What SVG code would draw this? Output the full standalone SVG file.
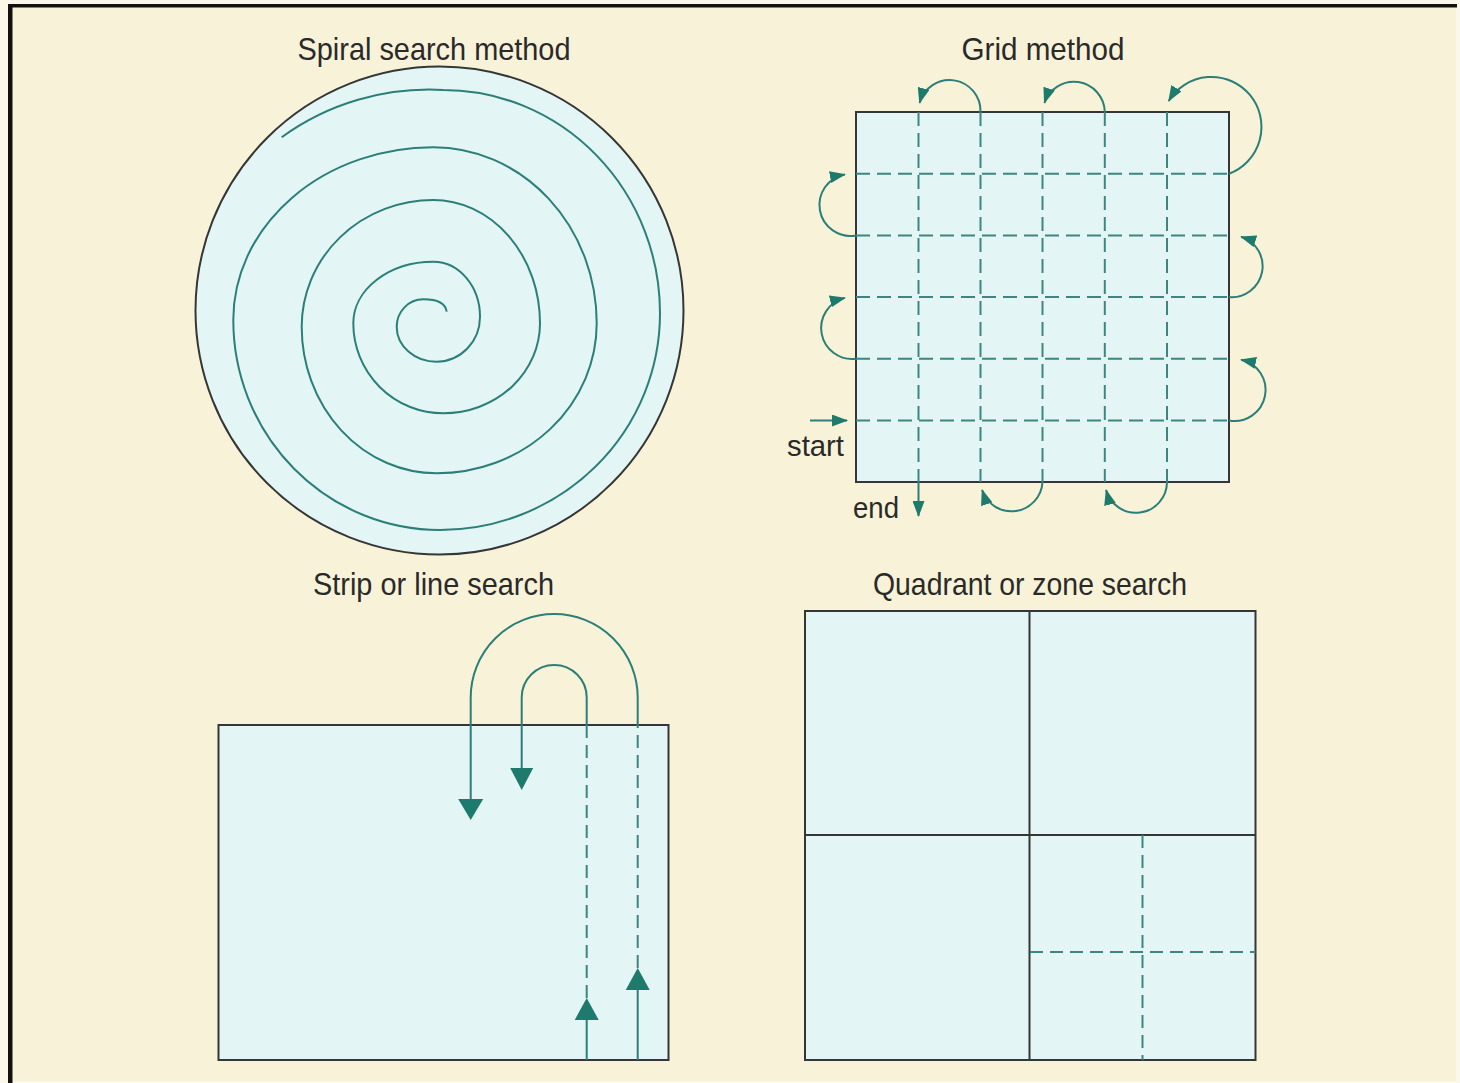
<svg xmlns="http://www.w3.org/2000/svg" width="1460" height="1083" viewBox="0 0 1460 1083">
  <defs>
    <style>
      .title { font-family: "Liberation Sans", Arial, sans-serif; font-size: 32px; fill: #2a2a2a; text-anchor: middle; }
      .lbl { font-family: "Liberation Sans", Arial, sans-serif; font-size: 30px; fill: #2a2a2a; }
      .box { fill: #e3f6f5; stroke: #363636; stroke-width: 2; }
      .edge { fill: none; stroke: #363636; stroke-width: 2; }
      .path { fill: none; stroke: #2b7f78; stroke-width: 2; }
      .dash { fill: none; stroke: #3e8581; stroke-width: 2; stroke-dasharray: 14 7; }
      .dash2 { fill: none; stroke: #3e8581; stroke-width: 2; stroke-dasharray: 13 7; }
      .head { fill: #1e7a6c; }
    </style>
    <marker id="ah" viewBox="0 0 16 12" refX="15" refY="6" markerWidth="16" markerHeight="12" markerUnits="userSpaceOnUse" orient="auto">
      <path d="M0,0 L16,6 L0,12 z" class="head"/>
    </marker>
  </defs>

  <!-- background and frame -->
  <rect x="0" y="0" width="1460" height="1083" fill="#fbf8ea"/>
  <rect x="12" y="7" width="1444" height="1074" fill="#f8f3d8"/>
  <rect x="8" y="4" width="1449" height="3.5" fill="#141010"/>
  <rect x="8" y="4" width="4.5" height="1079" fill="#141010"/>

  <!-- Spiral search method -->
  <g id="spiral">
    <text class="title" x="434" y="60" textLength="273" lengthAdjust="spacingAndGlyphs">Spiral search method</text>
    <circle cx="439.5" cy="310.5" r="244" class="box"/>
    <path class="path" d="M446.7,311.7 Q445,299.3 423.3,299.3
      A26.6 27.4 0 0 0 396.7,326.7
      A40 35 0 0 0 436.7,361.7
      A43.3 45 0 0 0 480,316.7
      A46.7 55 0 0 0 433.3,261.7
      A80 61.6 0 0 0 353.3,323.3
      A90 90 0 0 0 443.3,413.3
      A96.7 90 0 0 0 540,323.3
      A106.7 123.3 0 0 0 433.3,200
      A131.6 126.7 0 0 0 301.7,326.7
      A135 146.6 0 0 0 436.7,473.3
      A160 150 0 0 0 596.7,323.3
      A163.4 176 0 0 0 433.3,147.3
      A200 172.7 0 0 0 233.3,320
      A206.7 210 0 0 0 440,530
      A220 216.7 0 0 0 660,313.3
      A216.7 223.3 0 0 0 443.3,90
      A243 232 0 0 0 281.7,137.3"/>
  </g>

  <!-- Grid method -->
  <g id="grid">
    <text class="title" x="1043" y="60" textLength="163" lengthAdjust="spacingAndGlyphs">Grid method</text>
    <rect x="856" y="112" width="373" height="370" class="box"/>
    <g id="grid-lines">
      <path class="dash" d="M918.5,112 V482 M980.5,112 V482 M1042.5,112 V482 M1104.8,112 V482 M1167,112 V482"/>
      <path class="dash" d="M856,173.7 H1229 M856,235.4 H1229 M856,297.1 H1229 M856,358.8 H1229 M856,420.5 H1229"/>
    </g>
    <text class="lbl" x="787" y="456" textLength="57" lengthAdjust="spacingAndGlyphs">start</text>
    <text class="lbl" x="853" y="518" textLength="46" lengthAdjust="spacingAndGlyphs">end</text>
  </g>

  <!-- Strip or line search -->
  <g id="strip">
    <text class="title" x="433.5" y="595" textLength="241" lengthAdjust="spacingAndGlyphs">Strip or line search</text>
    <rect x="218.5" y="725" width="450" height="335" class="box"/>
  </g>

  <!-- Quadrant or zone search -->
  <g id="quadrant">
    <text class="title" x="1030" y="595" textLength="314" lengthAdjust="spacingAndGlyphs">Quadrant or zone search</text>
    <rect x="805" y="611" width="450.5" height="449" class="box"/>
    <path class="edge" d="M1029.5,611 V1060 M805,835 H1255.5"/>
    <path class="dash2" d="M1142.5,835 V1060 M1030,952 H1255.5"/>
  </g>

  <!-- connectors -->
  <g id="connectors">
    <!-- grid: start / end -->
    <path class="path" d="M810,420.5 H847" marker-end="url(#ah)"/>
    <path class="path" d="M918.5,482 V516" marker-end="url(#ah)"/>
    <!-- grid: right side turns -->
    <path class="path" d="M1229,420.5 A31 31 0 0 0 1241.1,359.7" marker-end="url(#ah)"/>
    <path class="path" d="M1229,297.1 A31 31 0 0 0 1241.1,236.7" marker-end="url(#ah)"/>
    <!-- grid: left side turns -->
    <path class="path" d="M856,358.8 A31 31 0 0 1 844.9,297.9" marker-end="url(#ah)"/>
    <path class="path" d="M856,235.4 A31 31 0 0 1 844.9,174.4" marker-end="url(#ah)"/>
    <!-- grid: big corner turn -->
    <path class="path" d="M1229.1,173.7 A50 50 0 1 0 1168.7,101" marker-end="url(#ah)"/>
    <!-- grid: top turns -->
    <path class="path" d="M1104.8,112 A31 31 0 0 0 1044.4,102.9" marker-end="url(#ah)"/>
    <path class="path" d="M980.5,112 A31 31 0 0 0 919.6,102.9" marker-end="url(#ah)"/>
    <!-- grid: bottom turns -->
    <path class="path" d="M1167,482 A31 31 0 0 1 1106.1,490" marker-end="url(#ah)"/>
    <path class="path" d="M1042.5,482 A31 31 0 0 1 982.1,490" marker-end="url(#ah)"/>

    <!-- strip: outer loop -->
    <path class="path" d="M637.7,1060 V990"/>
    <polygon class="head" points="625.7,990 649.7,990 637.7,968"/>
    <path class="dash2" d="M637.7,968 V725"/>
    <path class="path" d="M637.7,726 V697.5 A83.5 83.5 0 0 0 470.7,697.5 V800"/>
    <polygon class="head" points="458.2,799 483.2,799 470.7,820"/>
    <!-- strip: inner loop -->
    <path class="path" d="M586.7,1060 V1020"/>
    <polygon class="head" points="574.7,1020 598.7,1020 586.7,998"/>
    <path class="dash2" d="M586.7,998 V725"/>
    <path class="path" d="M586.7,726 V697.5 A32.5 32.5 0 0 0 521.7,697.5 V769"/>
    <polygon class="head" points="510.2,768 533.2,768 521.7,790"/>
  </g>
</svg>
